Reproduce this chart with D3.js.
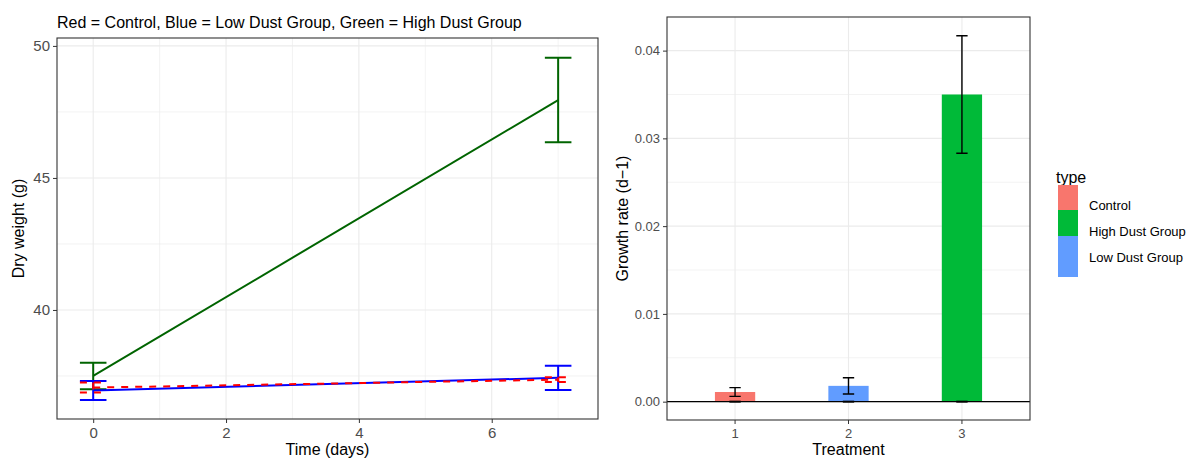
<!DOCTYPE html>
<html>
<head>
<meta charset="utf-8">
<script src="https://cdn.jsdelivr.net/npm/d3@7"></script>
<style>
  body { margin: 0; background: #fff; }
  text { font-family: "Liberation Sans", Arial, sans-serif; }
</style>
</head>
<body>
<div id="chart"></div>
<script>
// ---- left panel data: dry weight over time ----
var days = [0, 7];
var controlMean = [37.06, 37.36];
var controlSe = [0.19, 0.09];
var lowMean = [36.95, 37.43];
var lowSe = [0.36, 0.46];
var highMean = [37.5, 47.95];
var highSe = [0.5, 1.6];
var weightTicks = [40, 45, 50];
var dayTicks = [0, 2, 4, 6];

// ---- right panel data: growth rate ----
var treatments = ["1", "2", "3"];
var groupType = ["Control", "Low Dust Group", "High Dust Group"];
var growthRate = [0.0011, 0.0018, 0.035];
var growthSe = [0.0005, 0.00093, 0.0067];
var rateTicks = [0, 0.01, 0.02, 0.03, 0.04];
var legendTypes = ["Control", "High Dust Group", "Low Dust Group"];

var typeColor = d3.scaleOrdinal()
    .domain(["Control", "High Dust Group", "Low Dust Group"])
    .range(["#F8766D", "#00BA38", "#619CFF"]);

var svg = d3.select("#chart").append("svg")
    .attr("width", 1193).attr("height", 459);

var gridCol = "#EBEBEB", borderCol = "#333333", tickCol = "#4D4D4D";

// ================= LEFT PANEL =================
var L = {left: 57, right: 598, top: 38, bottom: 419};
var x1 = d3.scaleLinear().domain([-0.545, 7.6]).range([L.left, L.right]);
var y1 = d3.scaleLinear().domain([35.87, 50.3]).range([L.bottom, L.top]);

var g1 = svg.append("g");
// minor grid
[1, 3, 5, 7].forEach(function (v) {
    g1.append("line").attr("x1", x1(v)).attr("x2", x1(v))
        .attr("y1", L.top).attr("y2", L.bottom)
        .attr("stroke", gridCol).attr("stroke-width", 0.6);
});
[37.5, 42.5, 47.5].forEach(function (v) {
    g1.append("line").attr("x1", L.left).attr("x2", L.right)
        .attr("y1", y1(v)).attr("y2", y1(v))
        .attr("stroke", gridCol).attr("stroke-width", 0.6);
});
// major grid
dayTicks.forEach(function (v) {
    g1.append("line").attr("x1", x1(v)).attr("x2", x1(v))
        .attr("y1", L.top).attr("y2", L.bottom)
        .attr("stroke", gridCol).attr("stroke-width", 1.1);
});
weightTicks.forEach(function (v) {
    g1.append("line").attr("x1", L.left).attr("x2", L.right)
        .attr("y1", y1(v)).attr("y2", y1(v))
        .attr("stroke", gridCol).attr("stroke-width", 1.1);
});

function drawSeries(means, ses, color, dash) {
    var pts = days.map(function (d, i) { return {x: d, m: means[i], s: ses[i]}; });
    var line = d3.line().x(function (d) { return x1(d.x); }).y(function (d) { return y1(d.m); });
    g1.append("path").datum(pts).attr("d", line)
        .attr("fill", "none").attr("stroke", color).attr("stroke-width", 2)
        .attr("stroke-dasharray", dash);
    var eb = g1.append("g");
    pts.forEach(function (d) {
        var path = "M" + x1(d.x - 0.2) + "," + y1(d.m + d.s) + "H" + x1(d.x + 0.2) +
            "M" + x1(d.x) + "," + y1(d.m + d.s) + "V" + y1(d.m - d.s) +
            "M" + x1(d.x - 0.2) + "," + y1(d.m - d.s) + "H" + x1(d.x + 0.2);
        eb.append("path").attr("d", path).attr("fill", "none")
            .attr("stroke", color).attr("stroke-width", 2)
            .attr("stroke-dasharray", dash);
    });
}
drawSeries(highMean, highSe, "#006400", null);
drawSeries(lowMean, lowSe, "#0000FF", null);
drawSeries(controlMean, controlSe, "#FF0000", "7,7");

g1.append("rect").attr("x", L.left).attr("y", L.top)
    .attr("width", L.right - L.left).attr("height", L.bottom - L.top)
    .attr("fill", "none").attr("stroke", borderCol).attr("stroke-width", 1.1);

g1.append("g").attr("transform", "translate(0," + L.bottom + ")")
    .call(d3.axisBottom(x1).tickValues(dayTicks).tickSize(4).tickPadding(4))
    .call(function (a) {
        a.select(".domain").remove();
        a.selectAll("line").attr("stroke", borderCol);
        a.selectAll("text").attr("fill", tickCol).style("font-size", "15px");
    });
g1.append("g").attr("transform", "translate(" + L.left + ",0)")
    .call(d3.axisLeft(y1).tickValues(weightTicks).tickSize(4).tickPadding(3))
    .call(function (a) {
        a.select(".domain").remove();
        a.selectAll("line").attr("stroke", borderCol);
        a.selectAll("text").attr("fill", tickCol).style("font-size", "15px");
    });

svg.append("text").attr("x", L.left).attr("y", 28)
    .style("font-size", "16px").text("Red = Control, Blue = Low Dust Group, Green = High Dust Group");
svg.append("text").attr("x", (L.left + L.right) / 2).attr("y", 455)
    .attr("text-anchor", "middle").style("font-size", "16px").text("Time (days)");
svg.append("text").attr("transform", "translate(24," + (L.top + L.bottom) / 2 + ") rotate(-90)")
    .attr("text-anchor", "middle").style("font-size", "16px").text("Dry weight (g)");

// ================= RIGHT PANEL =================
var R = {left: 667, right: 1030, top: 17, bottom: 420};
var x2 = d3.scaleBand().domain(treatments).range([R.left, R.right])
    .paddingInner(0).paddingOuter(0.1);
var bw = x2.bandwidth();
function cx(t) { return x2(t) + bw / 2; }
var y2 = d3.scaleLinear().domain([-0.00209, 0.04383]).range([R.bottom, R.top]);

var g2 = svg.append("g");
[0.005, 0.015, 0.025, 0.035].forEach(function (v) {
    g2.append("line").attr("x1", R.left).attr("x2", R.right)
        .attr("y1", y2(v)).attr("y2", y2(v))
        .attr("stroke", gridCol).attr("stroke-width", 0.6);
});
rateTicks.forEach(function (v) {
    g2.append("line").attr("x1", R.left).attr("x2", R.right)
        .attr("y1", y2(v)).attr("y2", y2(v))
        .attr("stroke", gridCol).attr("stroke-width", 1.1);
});
treatments.forEach(function (t) {
    g2.append("line").attr("x1", cx(t)).attr("x2", cx(t))
        .attr("y1", R.top).attr("y2", R.bottom)
        .attr("stroke", gridCol).attr("stroke-width", 1.1);
});

var barW = bw * 0.355;
g2.selectAll("rect.bar").data(treatments).enter().append("rect")
    .attr("class", "bar")
    .attr("x", function (t) { return cx(t) - barW / 2; })
    .attr("y", function (t, i) { return y2(growthRate[i]); })
    .attr("width", barW)
    .attr("height", function (t, i) { return y2(0) - y2(growthRate[i]); })
    .attr("fill", function (t, i) { return typeColor(groupType[i]); });

g2.append("line").attr("x1", R.left).attr("x2", R.right)
    .attr("y1", y2(0)).attr("y2", y2(0))
    .attr("stroke", "#000").attr("stroke-width", 1.3);

var capW = bw * 0.1;
treatments.forEach(function (t, i) {
    var hi = y2(growthRate[i] + growthSe[i]), lo = y2(growthRate[i] - growthSe[i]);
    g2.append("path")
        .attr("d", "M" + (cx(t) - capW / 2) + "," + hi + "H" + (cx(t) + capW / 2) +
            "M" + cx(t) + "," + hi + "V" + lo +
            "M" + (cx(t) - capW / 2) + "," + lo + "H" + (cx(t) + capW / 2))
        .attr("fill", "none").attr("stroke", "#000").attr("stroke-width", 1.4);
    g2.append("line").attr("x1", cx(t) - capW / 2).attr("x2", cx(t) + capW / 2)
        .attr("y1", y2(0)).attr("y2", y2(0))
        .attr("stroke", "#000").attr("stroke-width", 2);
});

g2.append("rect").attr("x", R.left).attr("y", R.top)
    .attr("width", R.right - R.left).attr("height", R.bottom - R.top)
    .attr("fill", "none").attr("stroke", borderCol).attr("stroke-width", 1.1);

g2.append("g").attr("transform", "translate(0," + R.bottom + ")")
    .call(d3.axisBottom(x2).tickSize(4).tickPadding(5))
    .call(function (a) {
        a.select(".domain").remove();
        a.selectAll("line").attr("stroke", borderCol);
        a.selectAll("text").attr("fill", tickCol).style("font-size", "13px");
    });
g2.append("g").attr("transform", "translate(" + R.left + ",0)")
    .call(d3.axisLeft(y2).tickValues(rateTicks).tickFormat(d3.format(".2f")).tickSize(4).tickPadding(3))
    .call(function (a) {
        a.select(".domain").remove();
        a.selectAll("line").attr("stroke", borderCol);
        a.selectAll("text").attr("fill", tickCol).style("font-size", "13px");
    });

svg.append("text").attr("x", (R.left + R.right) / 2).attr("y", 455)
    .attr("text-anchor", "middle").style("font-size", "16px").text("Treatment");
svg.append("text").attr("transform", "translate(628," + (R.top + R.bottom) / 2 + ") rotate(-90)")
    .attr("text-anchor", "middle").style("font-size", "16px").text("Growth rate (d\u22121)");

// legend
var lg = svg.append("g").attr("transform", "translate(1058,0)");
lg.append("text").attr("x", -2).attr("y", 183).style("font-size", "16px").text("type");
var keyY = [185, 210, 236, 277];
legendTypes.forEach(function (t, i) {
    lg.append("rect").attr("x", 0).attr("y", keyY[i])
        .attr("width", 20).attr("height", keyY[i + 1] - keyY[i])
        .attr("fill", typeColor(t));
    lg.append("text").attr("x", 31).attr("y", 210 + i * 26)
        .style("font-size", "13px").text(t);
});
</script>
</body>
</html>
